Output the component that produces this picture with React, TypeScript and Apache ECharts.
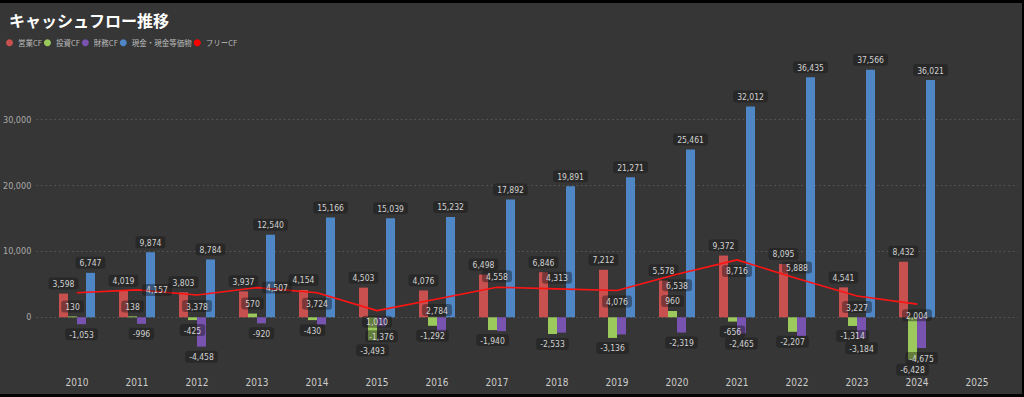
import React, { useEffect, useRef } from "react";
import * as echarts from "echarts";

const categories = ["2010", "2011", "2012", "2013", "2014", "2015", "2016", "2017", "2018", "2019", "2020", "2021", "2022", "2023", "2024", "2025"];
const operatingCF = [3598, 4019, 3803, 3937, 4154, 4503, 4076, 6498, 6846, 7212, 5578, 9372, 8095, 4541, 8432, null];
const investingCF = [130, 138, -425, 570, -430, -3493, -1292, -1940, -2533, -3136, 960, -656, -2207, -1314, -6428, null];
const financingCF = [-1053, -996, -4458, -920, -1100, -1376, -2100, -2100, -2330, -2610, -2319, -2465, -2840, -3184, -4675, null];
const cashEquivalents = [6747, 9874, 8784, 12540, 15166, 15039, 15232, 17892, 19891, 21271, 25461, 32012, 36435, 37566, 36021, null];
const freeCF = [3728, 4157, 3378, 4507, 3724, 1010, 2784, 4558, 4313, 4076, 6538, 8716, 5888, 3227, 2004, null];

const NUM_FONT = "'Liberation Sans Narrow', 'DejaVu Sans Condensed', Roboto, sans-serif";
const JP_FONT = "'Noto Sans CJK JP', 'Noto Sans', sans-serif";

// label presentation (styling, not data)
const hiddenFinancingLabels = [4, 6, 7, 8, 9, 12];
const hiddenFreeLabels = [0];
const freeLabelPositions = ["top", "right", "bottom", "right", "bottom", "bottom", "bottom", "top", "top", "bottom", "bottom", "bottom", "top", "bottom", "bottom", "top"];

const fmt = (v: any) => (typeof v === "number" ? v.toLocaleString("en-US") : "");

const labelBase = {
  show: true,
  fontFamily: NUM_FONT,
  fontSize: 8.5,
  color: "#d2d2d2",
  backgroundColor: "rgba(22,22,22,0.42)",
  padding: [2, 4, 1, 4],
  borderRadius: 3,
  distance: 4,
  formatter: (p: any) => fmt(p.value),
};

function barData(values: (number | null)[], hidden: number[] = []) {
  return values.map((v, i) => {
    if (v === null) return { value: null };
    return {
      value: v,
      label: { show: hidden.indexOf(i) < 0, position: v >= 0 ? "top" : "bottom" },
    };
  });
}

export default function App() {
  const ref = useRef<HTMLDivElement>(null);

  useEffect(() => {
    document.body.style.margin = "0";
    if (!ref.current) return;
    const chart = echarts.init(ref.current, null, { renderer: "svg" });
    const yMin = -7000;
    const yMax = 38000;
    const option: any = {
      animation: false,
      backgroundColor: "#363636",
      title: {
        text: "キャッシュフロー推移",
        left: 4,
        top: 4,
        textStyle: { color: "#ffffff", fontSize: 16, fontWeight: "bold", fontFamily: JP_FONT },
      },
      legend: {
        left: 1,
        top: 31,
        icon: "circle",
        itemWidth: 7,
        itemHeight: 7,
        itemGap: 2,
        textStyle: { color: "#bbbbbb", fontSize: 7.5, fontFamily: JP_FONT },
        data: ["営業CF", "投資CF", "財務CF", "現金・現金等価物", "フリーCF"],
      },
      grid: [
        { left: 33, right: 4, top: 64, bottom: 30.6 },
        { left: 47, right: 15, top: 64, bottom: 30.6 },
      ],
      xAxis: [
        { type: "category", gridIndex: 0, data: categories, show: false },
        {
          type: "category",
          gridIndex: 1,
          data: categories,
          axisLine: { show: false },
          axisTick: { show: false },
          axisLabel: { color: "#cccccc", fontSize: 10, fontFamily: NUM_FONT, margin: 14 },
        },
      ],
      yAxis: [
        {
          type: "value",
          gridIndex: 0,
          min: yMin,
          max: yMax,
          axisLine: { show: false },
          axisTick: { show: false },
          axisLabel: {
            color: "#aaaaaa",
            fontSize: 9,
            fontFamily: NUM_FONT,
            margin: 5,
            formatter: (v: number) => (v % 10000 === 0 ? v.toLocaleString("en-US") : ""),
          },
          splitLine: {
            show: true,
            showMinLine: false,
            showMaxLine: false,
            lineStyle: { color: "#595959", type: [1.5, 3], width: 1 },
          },
        },
        { type: "value", gridIndex: 1, min: yMin, max: yMax, show: false, splitLine: { show: false } },
      ],
      series: [
        {
          name: "営業CF",
          type: "bar",
          xAxisIndex: 1,
          yAxisIndex: 1,
          barWidth: 9,
          barGap: "0%",
          itemStyle: { color: "#c8504e" },
          label: labelBase,
          data: barData(operatingCF),
        },
        {
          name: "投資CF",
          type: "bar",
          xAxisIndex: 1,
          yAxisIndex: 1,
          barWidth: 9,
          barGap: "0%",
          itemStyle: { color: "#9bc95b" },
          label: labelBase,
          data: barData(investingCF),
        },
        {
          name: "財務CF",
          type: "bar",
          xAxisIndex: 1,
          yAxisIndex: 1,
          barWidth: 9,
          barGap: "0%",
          itemStyle: { color: "#7853b0" },
          label: labelBase,
          data: barData(financingCF, hiddenFinancingLabels),
        },
        {
          name: "現金・現金等価物",
          type: "bar",
          xAxisIndex: 1,
          yAxisIndex: 1,
          barWidth: 9,
          barGap: "0%",
          itemStyle: { color: "#4f86c6" },
          label: labelBase,
          data: barData(cashEquivalents),
        },
        {
          name: "フリーCF",
          type: "line",
          xAxisIndex: 1,
          yAxisIndex: 1,
          showSymbol: true,
          symbolSize: 0.1,
          z: 5,
          itemStyle: { color: "#ff0000" },
          lineStyle: { color: "#ff1414", width: 1.6 },
          label: labelBase,
          data: freeCF.map((v, i) => ({
            value: v,
            label: { show: v !== null && hiddenFreeLabels.indexOf(i) < 0, position: freeLabelPositions[i] },
          })),
        },
      ],
    };
    chart.setOption(option);
    return () => chart.dispose();
  }, []);

  return (
    <div style={{ width: 1024, height: 397, background: "#000000", position: "relative" }}>
      <div ref={ref} style={{ position: "absolute", left: 0, top: 3, width: 1022, height: 391 }} />
    </div>
  );
}
